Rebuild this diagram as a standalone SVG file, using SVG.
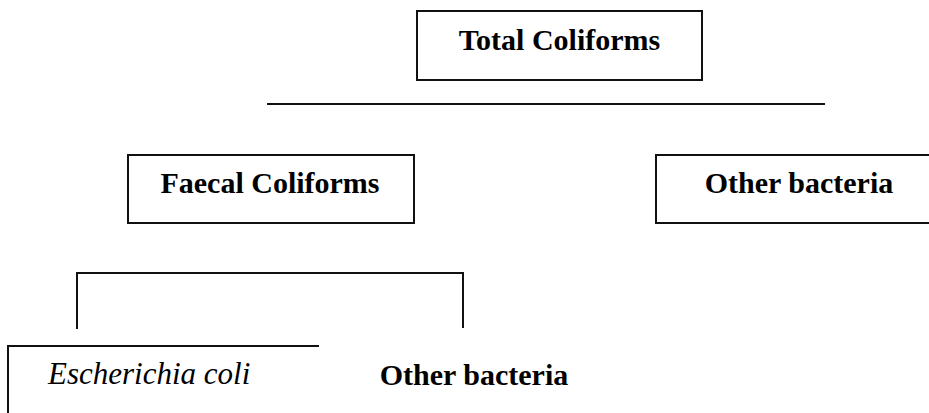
<svg xmlns="http://www.w3.org/2000/svg" width="929" height="413" viewBox="0 0 929 413">
<style>
.box{fill:#fff;stroke:#111;stroke-width:2}
.ln{fill:none;stroke:#111;stroke-width:2}
.t{font-size:30px;font-weight:bold;fill:#000}
.i{font-size:31px;font-style:italic;fill:#000}
</style>
<rect width="929" height="413" fill="#fff"/>
<g id="connectors">
<line class="ln" x1="267" y1="104" x2="825" y2="104"/>
<polyline class="ln" points="77,329 77,273 463,273 463,328"/>
</g>
<g id="total-coliforms">
<rect class="box" x="417" y="11" width="285" height="69"/>
<text class="t" font-family="Liberation Serif, Tinos, DejaVu Serif, serif" x="559.5" y="50" text-anchor="middle">Total Coliforms</text>
</g>
<g id="faecal-coliforms">
<rect class="box" x="128" y="155" width="286" height="68"/>
<text class="t" font-family="Liberation Serif, Tinos, DejaVu Serif, serif" x="270" y="193" text-anchor="middle">Faecal Coliforms</text>
</g>
<g id="other-bacteria-1">
<rect class="box" x="656" y="155" width="300" height="68"/>
<text class="t" font-family="Liberation Serif, Tinos, DejaVu Serif, serif" x="799" y="193" text-anchor="middle">Other bacteria</text>
</g>
<g id="escherichia-coli">
<polyline class="ln" points="8,420 8,346 319,346"/>
<text class="i" font-family="Liberation Serif, Tinos, DejaVu Serif, serif" x="48" y="384">Escherichia coli</text>
</g>
<g id="other-bacteria-2">
<text class="t" font-family="Liberation Serif, Tinos, DejaVu Serif, serif" x="474" y="385" text-anchor="middle">Other bacteria</text>
</g>
</svg>
